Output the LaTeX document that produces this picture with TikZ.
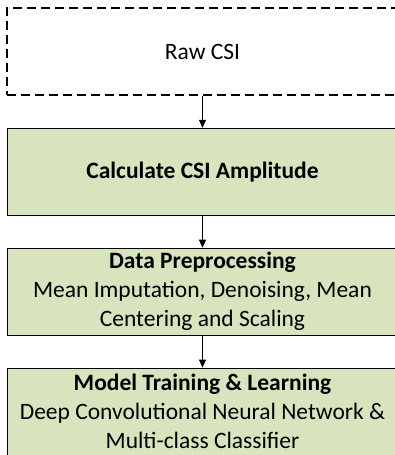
\documentclass[tikz,border=0pt]{standalone}
\usepackage{fontspec}
\setmainfont{Carlito}
\usepackage{xcolor}
\usetikzlibrary{arrows.meta,positioning}
\definecolor{stagegreen}{RGB}{215,228,189}

\begin{document}
\begin{tikzpicture}[
  x=1pt, y=-1pt,
  >={Triangle[length=8pt,width=7pt]},
  node distance=32pt,
  box/.style={draw, line width=0.9pt, fill=stagegreen, align=center, minimum width=391pt, minimum height=87pt, inner sep=2pt, font=\fontsize{23.5}{29}\selectfont},
  input/.style={box, fill=white, line width=1.6pt, dash pattern=on 9pt off 5pt}
]
\useasboundingbox (0,0) rectangle (395,455);
\node[input] (raw) at (202.5,51.5) {Raw CSI};
\node[box, below=of raw] (amp) {\textbf{Calculate CSI Amplitude}};
\node[box, below=of amp] (prep) {\textbf{Data Preprocessing}\\Mean Imputation, Denoising, Mean\\Centering and Scaling};
\node[box, below=of prep] (train) {\textbf{Model Training \& Learning}\\Deep Convolutional Neural Network \&\\Multi-class Classifier};

\draw[->, line width=0.8pt] (raw) -- (amp);
\draw[->, line width=0.8pt] (amp) -- (prep);
\draw[->, line width=0.8pt] (prep) -- (train);
\end{tikzpicture}
\end{document}
